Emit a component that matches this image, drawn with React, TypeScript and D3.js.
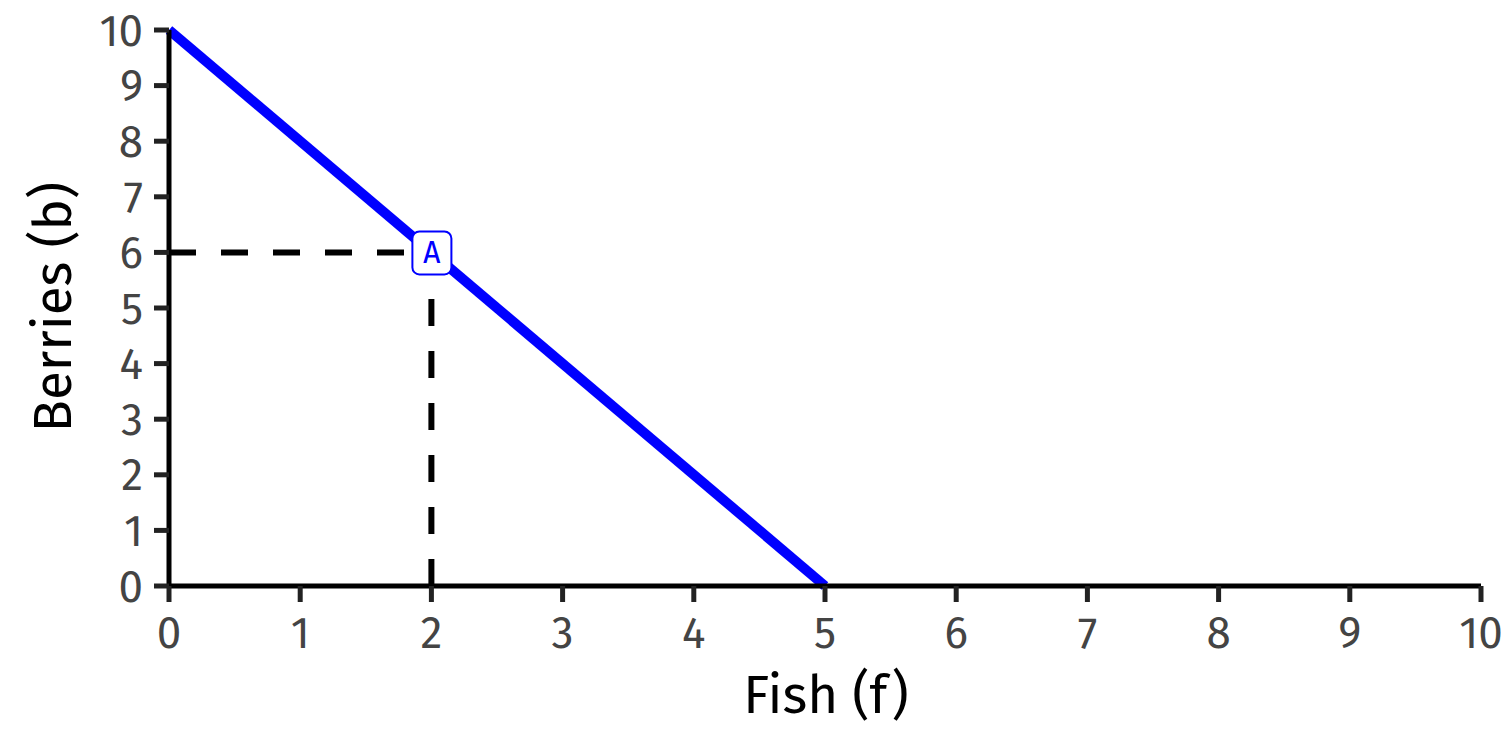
import React from "react";
import * as d3 from "d3";

const xTicks = [0, 1, 2, 3, 4, 5, 6, 7, 8, 9, 10];
const yTicks = [0, 1, 2, 3, 4, 5, 6, 7, 8, 9, 10];
const ppfFish = [0, 5];
const ppfBerries = [10, 0];
const pointA = { label: "A", fish: 2, berries: 6 };
const xTitle = "Fish (f)";
const yTitle = "Berries (b)";

export default function App() {
  const W = 1512, H = 756;
  const x = d3.scaleLinear().domain([0, 10]).range([169, 1481]);
  const y = d3.scaleLinear().domain([0, 10]).range([586, 30]);
  const line = d3.line<number>().x((d, i) => x(ppfFish[i])).y((d, i) => y(ppfBerries[i]));
  const font = "'Fira Sans', 'Noto Sans', sans-serif";
  return (
    <svg width={W} height={H} style={{ position: "absolute", left: 0, top: 0, background: "#fff" }}>
      {/* dashed guides */}
      <line x1={x(0)} x2={x(pointA.fish)} y1={y(pointA.berries)} y2={y(pointA.berries)} stroke="#000" strokeWidth={6} strokeDasharray="27 25" />
      <line x1={x(pointA.fish)} x2={x(pointA.fish)} y1={y(0)} y2={y(pointA.berries)} stroke="#000" strokeWidth={6} strokeDasharray="27 25" />
      {/* PPF line */}
      <path d={line(ppfFish) || ""} stroke="#0000ff" strokeWidth={10} fill="none" />
      {/* axes */}
      <line x1={x(0)} x2={x(10)} y1={y(0)} y2={y(0)} stroke="#000" strokeWidth={5} />
      <line x1={x(0)} x2={x(0)} y1={y(0)} y2={y(10)} stroke="#000" strokeWidth={5} />
      {xTicks.map((t) => (
        <g key={"x" + t}>
          <line x1={x(t)} x2={x(t)} y1={y(0)} y2={y(0) + 16} stroke="#222" strokeWidth={5} />
          <text x={x(t)} y={648} textAnchor="middle" fontSize={44} fill="#444" fontFamily={font}>{t}</text>
        </g>
      ))}
      {yTicks.map((t) => (
        <g key={"y" + t}>
          <line x1={x(0) - 15} x2={x(0)} y1={y(t)} y2={y(t)} stroke="#222" strokeWidth={5} />
          <text x={143} y={y(t) + 15.5} textAnchor="end" fontSize={44} fill="#444" fontFamily={font}>{t}</text>
        </g>
      ))}
      {/* label A */}
      <rect x={x(pointA.fish) - 19} y={y(pointA.berries) - 21} width={39} height={43} rx={7} fill="#fff" stroke="#0000ff" strokeWidth={2} />
      <text x={x(pointA.fish) + 0.5} y={y(pointA.berries) + 11} textAnchor="middle" fontSize={30} fill="#0000ff" fontFamily="'DejaVu Sans Mono', monospace">{pointA.label}</text>
      {/* titles */}
      <text x={826} y={713} textAnchor="middle" fontSize={53} fill="#000" fontFamily={font}>{xTitle}</text>
      <text transform={`translate(71,307) rotate(-90)`} textAnchor="middle" fontSize={53} fill="#000" fontFamily={font}>{yTitle}</text>
    </svg>
  );
}
